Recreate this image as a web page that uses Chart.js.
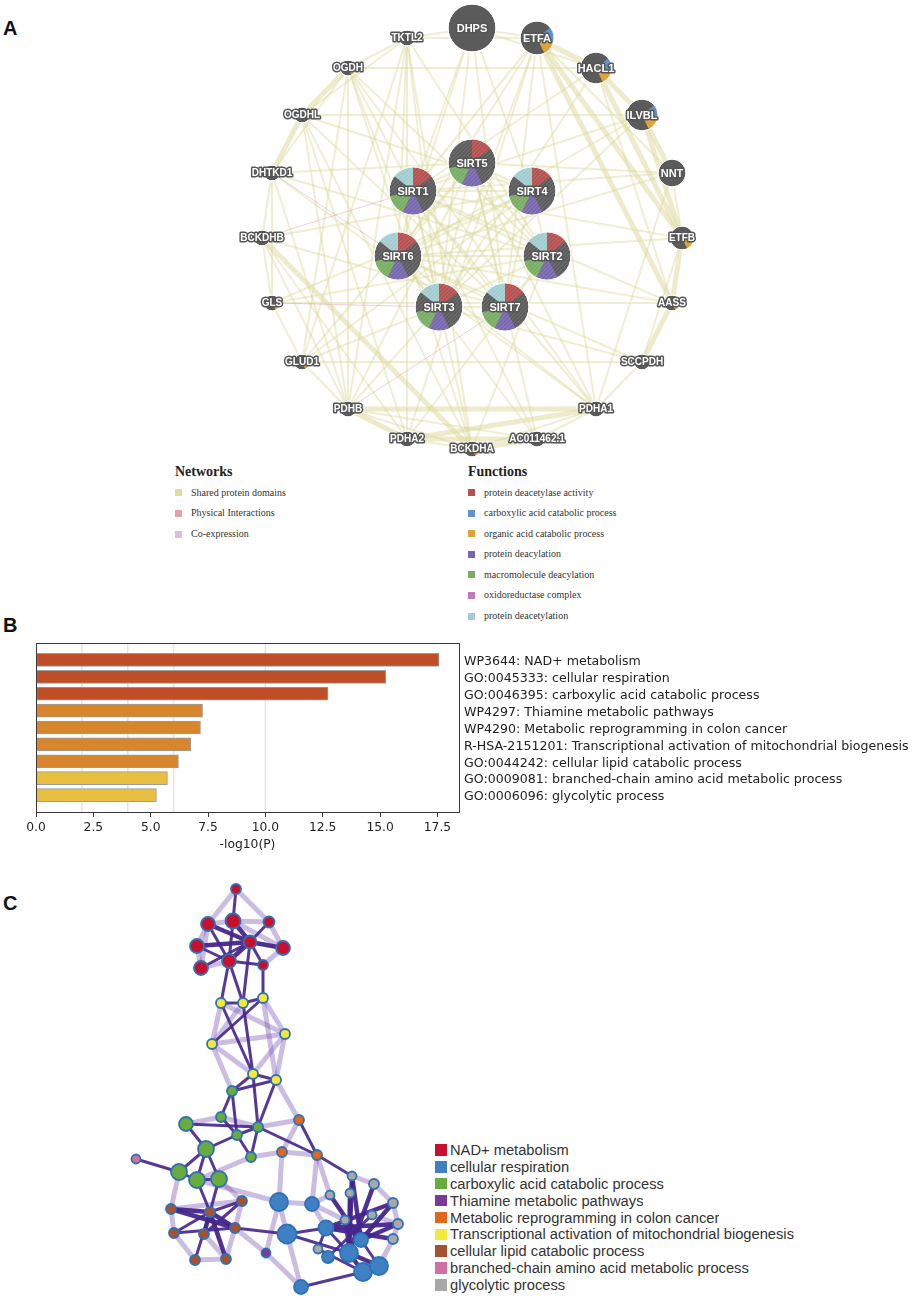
<!DOCTYPE html>
<html>
<head>
<meta charset="utf-8">
<title>Sirtuin network and enrichment</title>
<script src="https://cdn.jsdelivr.net/npm/chart.js"></script>
<style>
  body { margin: 0; background: #fff; }
  #page { position: relative; width: 913px; height: 1299px; overflow: hidden; }
  canvas { position: absolute; }
  .tag { position: absolute; font: bold 20px "Liberation Sans", Arial, sans-serif; color: #111; line-height: 20px; }
  .gm { position: absolute; font-family: "Liberation Serif", serif; color: #333; white-space: nowrap; }
  .gm.head { font-size: 14px; font-weight: bold; color: #222; line-height: 16px; }
  .gm.item { font-size: 10px; line-height: 14px; }
  .sq { position: absolute; }
  .ml { position: absolute; font: 14.7px "Liberation Sans", Arial, sans-serif; color: #333; line-height: 16px; white-space: nowrap; overflow: hidden; }
</style>
</head>
<body>
<div id="page">
  <div class="tag" style="left:3px;top:18px">A</div>
  <div class="tag" style="left:3px;top:615px">B</div>
  <div class="tag" style="left:3px;top:893px">C</div>
  <canvas id="geneNet" width="913" height="460" style="left:0;top:0"></canvas>
  <canvas id="barChart" width="913" height="230" style="left:0;top:630px"></canvas>
  <canvas id="termNet" width="430" height="429" style="left:0;top:870px"></canvas>
</div>

<script>
  // ---------- A: GeneMANIA network ----------
  const genes = ['DHPS','ETFA','HACL1','ILVBL','NNT','ETFB','AASS','SCCPDH','PDHA1','AC011462.1','BCKDHA','PDHA2','PDHB','GLUD1','GLS','BCKDHB','DHTKD1','OGDHL','OGDH','TKTL2','SIRT5','SIRT1','SIRT4','SIRT6','SIRT2','SIRT3','SIRT7'];
  const geneX = [472,537,596,642,672,682,672,642,596,537,472,407,348,302,272,262,272,302,348,407,472,413,532,398,547,439,505];
  const geneY = [28,38,68,115,173,238,303,362,409,439,449,439,409,362,303,238,173,115,68,38,163,191,191,256,256,307,307];
  const geneScore = [24,17,16,16,14,12,8,8,8,8,8,8,8,8,8,8,8,8,8,8,24,24,24,24,24,24,24];
  const geneFunctions = [[],[1,2],[1,2],[1,2],[],[2],[2],[],[],[],[2],[],[],[2],[2],[],[],[],[2],[],
    [0,3,4],[0,3,4,6],[0,3,4,6],[0,3,4,6],[0,3,4,6],[0,3,4,6],[0,3,4,6]];

  const networkTypes = ['Shared protein domains', 'Physical Interactions', 'Co-expression'];
  const networkColors = ['#e0dc9e', '#e2a3a8', '#d5c2df'];
  const functionNames = ['protein deacetylase activity','carboxylic acid catabolic process','organic acid catabolic process','protein deacylation','macromolecule deacylation','oxidoreductase complex','protein deacetylation'];
  const functionColors = ['#b5504f','#5e93cc','#dda43a','#7766ad','#78ad62','#c17bbb','#a1cdd0'];

  const strongLinks = ['ETFA-ETFB','ETFA-HACL1','HACL1-ILVBL','ILVBL-ETFB','HACL1-ETFB','ETFB-AASS','AASS-SCCPDH','ETFA-AASS','ILVBL-NNT',
    'OGDH-OGDHL','OGDHL-DHTKD1','PDHB-PDHA1','PDHA2-PDHA1','PDHA2-AC011462.1','BCKDHA-AC011462.1','BCKDHB-BCKDHA','PDHB-PDHA2'];
  const domainLinks = [
    'SIRT1-SIRT5','SIRT1-SIRT4','SIRT1-SIRT6','SIRT1-SIRT2','SIRT1-SIRT3','SIRT1-SIRT7','SIRT5-SIRT4','SIRT5-SIRT6','SIRT5-SIRT2','SIRT5-SIRT3','SIRT5-SIRT7',
    'SIRT4-SIRT6','SIRT4-SIRT2','SIRT4-SIRT3','SIRT4-SIRT7','SIRT6-SIRT2','SIRT6-SIRT3','SIRT6-SIRT7','SIRT2-SIRT3','SIRT2-SIRT7','SIRT3-SIRT7',
    'DHPS-SIRT1','DHPS-SIRT6','DHPS-SIRT3','DHPS-SIRT4','DHPS-SIRT7','DHPS-TKTL2','DHPS-ETFA',
    'TKTL2-OGDH','TKTL2-OGDHL','TKTL2-SIRT6','TKTL2-SIRT3','TKTL2-PDHB','TKTL2-PDHA2','TKTL2-ETFA','TKTL2-SIRT2','TKTL2-BCKDHA','TKTL2-GLUD1',
    'OGDH-DHTKD1','OGDH-SIRT3','OGDH-PDHB','OGDH-BCKDHA','OGDH-SIRT2','OGDH-PDHA1','OGDH-GLUD1','OGDH-SIRT1',
    'OGDHL-SIRT7','OGDHL-PDHA2','OGDHL-BCKDHA','OGDHL-PDHB','OGDHL-SIRT4',
    'DHTKD1-BCKDHB','DHTKD1-GLS','DHTKD1-SIRT5','DHTKD1-PDHB','DHTKD1-PDHA1','DHTKD1-SIRT2',
    'BCKDHB-GLS','BCKDHB-PDHB','BCKDHB-SIRT4','BCKDHB-PDHA2','BCKDHB-SIRT7',
    'GLS-GLUD1','GLS-SIRT4','GLS-SIRT2',
    'GLUD1-PDHB','GLUD1-SIRT5','GLUD1-SIRT4','GLUD1-SCCPDH','GLUD1-SIRT3',
    'PDHB-BCKDHA','PDHB-AC011462.1','PDHB-SIRT3','PDHB-SIRT5',
    'PDHA2-BCKDHA','PDHA2-ETFA','PDHA2-SIRT2',
    'BCKDHA-PDHA1','BCKDHA-SIRT1','BCKDHA-SIRT2',
    'AC011462.1-PDHA1','AC011462.1-SIRT5','AC011462.1-SIRT1','AC011462.1-SIRT6',
    'PDHA1-SIRT1','PDHA1-SIRT6','PDHA1-SCCPDH','PDHA1-ETFA','PDHA1-SIRT5','PDHA1-NNT',
    'SCCPDH-ETFB','SCCPDH-SIRT6','SCCPDH-SIRT3',
    'AASS-HACL1','AASS-SIRT1','AASS-SIRT6','AASS-GLS',
    'ETFB-NNT','ETFB-SIRT6','ETFB-SIRT1',
    'NNT-SIRT1','NNT-SIRT6','NNT-ETFA','NNT-SIRT5',
    'ILVBL-SIRT1','ILVBL-SIRT6','ILVBL-SIRT3','ILVBL-OGDHL',
    'HACL1-SIRT3','HACL1-SIRT1','HACL1-DHPS','HACL1-OGDH',
    'ETFA-SIRT6','ETFA-SIRT3','ETFA-SIRT1','ETFA-SIRT7'];
  const physicalLinks = ['GLS-SIRT3','BCKDHB-SIRT1','PDHB-SIRT7','DHTKD1-SIRT6'];

  // ---------- B: enrichment bars ----------
  const terms = ['WP3644: NAD+ metabolism','GO:0045333: cellular respiration','GO:0046395: carboxylic acid catabolic process',
    'WP4297: Thiamine metabolic pathways','WP4290: Metabolic reprogramming in colon cancer',
    'R-HSA-2151201: Transcriptional activation of mitochondrial biogenesis','GO:0044242: cellular lipid catabolic process',
    'GO:0009081: branched-chain amino acid metabolic process','GO:0006096: glycolytic process'];
  const logP = [17.57, 15.25, 12.73, 7.26, 7.17, 6.75, 6.21, 5.73, 5.25];
  const barColors = ['#c04f28','#c04f28','#c04f28','#d8862e','#d8862e','#d8862e','#d8862e','#e9bf41','#e9bf41'];
  const refLines = [2, 4, 6, 10];

  // ---------- C: Metascape term network ----------
  const clusterNames = ['NAD+ metabolism','cellular respiration','carboxylic acid catabolic process','Thiamine metabolic pathways',
    'Metabolic reprogramming in colon cancer','Transcriptional activation of mitochondrial biogenesis','cellular lipid catabolic process',
    'branched-chain amino acid metabolic process','glycolytic process'];
  const clusterColors = ['#c8102e','#3f80c4','#6aab3e','#7b3a96','#e0671e','#f4e83c','#a65230','#d36fa8','#a8a8a8'];
  const termIds = ['r1','r2','r3','r4','r5','r6','r7','r8','r9','r10','y1','y2','y3','y4','y5','y6','y7',
    'g1','g2','g3','g4','g5','g6','g7','g8','g9','g10','o1','o2','o3','p1','b1','b2','b3','b4','b5','b6','b7','b8','t1',
    'c1','c2','c3','c4','c5','c6','c7','c8','c9','c10','k1','k2','k3','k4','k5','k6','k7','k8','k9','k10'];
  const termX = [236,208,233,269,197,250,283,201,229,263,221,243,263,285,212,253,276,
    232,186,221,258,237,251,206,179,197,219,299,282,317,136,171,210,242,235,174,204,195,226,266,
    279,312,287,326,361,349,328,363,379,301,352,374,330,350,393,372,345,398,393,318];
  const termY = [889,924,921,922,946,942,948,968,961,965,1003,1003,998,1034,1044,1074,1080,
    1091,1124,1117,1127,1135,1157,1149,1172,1180,1179,1120,1152,1155,1159,1209,1212,1201,1228,1233,1234,1260,1259,1253,
    1202,1204,1234,1228,1240,1253,1257,1272,1266,1287,1176,1184,1195,1193,1203,1215,1220,1224,1239,1249];
  const termSize = [5,7,7.5,5.5,7,6.5,7,7,7,5,5,5,5,5,5,5,5,
    5,7,5,5,5,5,8,8,8,8,5,5,5,4.5,5,5,5,5,5,5,5,5,4.5,
    9,7,9.5,7.5,7,9,6,9,9,7,4.5,5,4.5,4.5,5,4.5,4.5,5,5,4.5];
  const termCluster = [0,0,0,0,0,0,0,0,0,0,5,5,5,5,5,5,5,
    2,2,2,2,2,2,2,2,2,2,4,4,4,7,6,6,6,6,6,6,6,6,3,
    1,1,1,1,1,1,1,1,1,1,8,8,8,8,8,8,8,8,8,8];
  const hubTermLinks = ['r5-r6','r6-r7','r2-r6','r6-r9','r3-r6','b2-b1','b2-b4','b1-b4','b2-b8','b2-b6',
    'c4-k5','c4-k8','c4-k9','c6-k1','c6-k4','c6-k2','c5-k3','c5-k1','c5-k5','c5-k8','c6-c9','c6-c8'];
  const strongTermLinks = ['r1-r3','r3-r9','r6-r4','r6-r8','r6-r10','r5-r9','r2-r9','r9-r10',
    'r9-y2','r6-y2','r10-y3','r9-y1','y1-y2','y2-y3','y1-y6','y3-y5','y2-y6','y6-y7','y6-g1','y7-g1','y6-g4','y7-g4',
    'g1-g3','g1-g5','g3-g5','g4-g6','g2-g4','g5-g7','g7-g8','g7-g2','g7-g9','g7-g10','g8-g9','g9-g10','g5-g6','g4-o3','g4-g5','p1-g8','g9-b2','g10-b2',
    'b2-b3','b2-b5','b2-b7','b5-b4','b6-b3',
    'b4-c3','c3-c4','c3-c6','c7-k6','c5-c9','c8-k10','c4-k10','c10-c8','o3-k1','c6-k7','c4-c6','o1-o3'];
  const weakTermLinks = ['r2-r3','r3-r4','r4-r7','r2-r5','r5-r8','r8-r9','r10-r7','r1-r2','r1-r4','r3-r7','r2-r8',
    'y1-y5','y5-y6','y3-y4','y4-y7','y4-y1','y5-y4','y5-g1','y4-y6','y2-y5','y3-y7',
    'g2-g3','g3-g4','g8-b1','g9-g6','g6-o2','y7-o1','o1-o2','o2-o3','g4-o1',
    'b1-b5','b5-b7','b7-b8','b8-b4','b4-b3','b3-b1','b3-g10','b6-b8',
    'g9-c1','c1-o2','c1-c3','c2-o3','c2-c4','t1-c1','t1-c10','t1-b4','c2-k3','k5-k8','k8-k9','k2-k5','k1-k2','c10-c3','c1-c2','o3-k3','k9-c9','k6-k8','c2-k7'];

  Chart.defaults.font.family = '"DejaVu Sans", sans-serif';

  // one straight segment per edge, placed by the chart's own scales
  function linkSet(pair, ids, xs, ys, color, width) {
    const [a, b] = pair.split('-').map(n => ids.indexOf(n));
    return { type: 'scatter', showLine: true, data: [{x: xs[a], y: ys[a]}, {x: xs[b], y: ys[b]}],
      borderColor: color, borderWidth: width, pointRadius: 0, pointHoverRadius: 0, tension: 0 };
  }

  const netOptions = (w, y0, y1) => ({
    responsive: false, animation: false, events: [],
    layout: { padding: 0, autoPadding: false },
    plugins: { legend: { display: false }, tooltip: { enabled: false } },
    scales: {
      x: { type: 'linear', min: 0, max: w, display: false },
      y: { type: 'linear', min: y0, max: y1, reverse: true, display: false }
    }
  });

  // pies, hatching and labels on the gene nodes
  const geneDecor = {
    id: 'geneDecor',
    afterDatasetsDraw(chart) {
      const ctx = chart.ctx;
      const step = Math.PI * 2 / functionNames.length;
      chart.getDatasetMeta(0).data.forEach((pt, i) => {
        const r = geneScore[i];
        ctx.save();
        geneFunctions[i].forEach(f => {
          ctx.beginPath();
          ctx.moveTo(pt.x, pt.y);
          ctx.arc(pt.x, pt.y, r, -Math.PI / 2 + f * step, -Math.PI / 2 + (f + 1) * step);
          ctx.closePath();
          ctx.fillStyle = functionColors[f];
          ctx.fill();
        });
        if (geneFunctions[i].includes(0)) {
          ctx.beginPath();
          ctx.arc(pt.x, pt.y, r, 0, Math.PI * 2);
          ctx.clip();
          ctx.strokeStyle = 'rgba(255,255,255,0.13)';
          ctx.lineWidth = 1.2;
          for (let d = -2 * r; d <= 2 * r; d += 4) {
            ctx.beginPath();
            ctx.moveTo(pt.x + d - r, pt.y + r);
            ctx.lineTo(pt.x + d + r, pt.y - r);
            ctx.stroke();
          }
        }
        ctx.restore();
        ctx.beginPath();
        ctx.arc(pt.x, pt.y, r, 0, Math.PI * 2);
        ctx.strokeStyle = '#fff';
        ctx.lineWidth = 1;
        ctx.stroke();
        ctx.font = (r > 12 ? 'bold 11px' : 'bold 10px') + ' "Liberation Sans", Arial, sans-serif';
        ctx.textAlign = 'center';
        ctx.textBaseline = 'middle';
        ctx.lineJoin = 'round';
        ctx.strokeStyle = '#555';
        ctx.lineWidth = 3;
        ctx.strokeText(genes[i], pt.x, pt.y + 0.5);
        ctx.fillStyle = '#fff';
        ctx.fillText(genes[i], pt.x, pt.y + 0.5);
      });
    }
  };

  new Chart(document.getElementById('geneNet'), {
    type: 'scatter',
    data: {
      datasets: [
        { data: genes.map((g, i) => ({x: geneX[i], y: geneY[i]})),
          pointRadius: c => geneScore[c.dataIndex], pointBackgroundColor: '#5b5b5b',
          pointBorderColor: '#fff', pointBorderWidth: 1 },
        ...physicalLinks.map(p => linkSet(p, genes, geneX, geneY, 'rgba(226,150,160,0.45)', 1)),
        ...domainLinks.map(p => linkSet(p, genes, geneX, geneY, 'rgba(218,214,150,0.42)', 2)),
        ...strongLinks.map(p => linkSet(p, genes, geneX, geneY, 'rgba(222,218,160,0.55)', 5))
      ]
    },
    options: netOptions(913, 0, 460),
    plugins: [geneDecor]
  });

  // ---------- B ----------
  const barFrame = {
    id: 'barFrame',
    beforeDatasetsDraw(chart) {
      const { ctx, chartArea: a, scales: { x } } = chart;
      ctx.save();
      ctx.strokeStyle = '#efdfdf';
      ctx.lineWidth = 1.5;
      refLines.forEach(v => {
        const px = x.getPixelForValue(v);
        ctx.beginPath(); ctx.moveTo(px, a.top); ctx.lineTo(px, a.bottom); ctx.stroke();
      });
      ctx.restore();
    },
    afterDatasetsDraw(chart) {
      const { ctx, chartArea: a } = chart;
      ctx.save();
      ctx.strokeStyle = '#3a3a3a';
      ctx.lineWidth = 1;
      ctx.strokeRect(Math.round(a.left) + 0.5, Math.round(a.top) + 0.5, Math.round(a.right - a.left), Math.round(a.bottom - a.top));
      ctx.restore();
    }
  };

  new Chart(document.getElementById('barChart'), {
    type: 'bar',
    data: {
      labels: ['', ...terms, ''],
      datasets: [{
        data: [null, ...logP, null],
        backgroundColor: ['transparent', ...barColors, 'transparent'],
        borderColor: '#9c9c9c', borderWidth: 1, borderSkipped: false,
        barThickness: 13
      }]
    },
    options: {
      indexAxis: 'y', responsive: false, animation: false, events: [],
      layout: { padding: { top: 13, left: 36, right: 0, bottom: 0 } },
      plugins: { legend: { display: false }, tooltip: { enabled: false } },
      scales: {
        x: {
          min: 0, max: 18.44,
          grid: { display: true, drawOnChartArea: false, drawTicks: true, tickLength: 5, color: '#3a3a3a' },
          border: { display: false },
          ticks: { stepSize: 2.5, includeBounds: false, callback: v => v.toFixed(1), color: '#222',
            font: { size: 12.3 }, padding: 3, maxRotation: 0 },
          title: { display: true, text: '-log10(P)', color: '#222', font: { size: 12.3 }, padding: { top: 2, bottom: 8 } },
          afterFit: s => { s.height = 48; }
        },
        y: {
          position: 'right', offset: false,
          grid: { display: false, drawTicks: false },
          border: { display: false },
          ticks: { color: '#222', font: { size: 12.6 }, padding: 5, autoSkip: false, labelOffset: 2 },
          afterFit: s => { s.width = 454; }
        }
      }
    },
    plugins: [barFrame]
  });

  // ---------- C ----------
  new Chart(document.getElementById('termNet'), {
    type: 'scatter',
    data: {
      datasets: [
        { data: termIds.map((t, i) => ({x: termX[i], y: termY[i]})),
          pointRadius: c => termSize[c.dataIndex],
          pointBackgroundColor: c => clusterColors[termCluster[c.dataIndex]],
          pointBorderColor: '#2d72b4', pointBorderWidth: 1.8 },
        ...hubTermLinks.map(p => linkSet(p, termIds, termX, termY, 'rgba(70,38,140,0.95)', 4.5)),
        ...strongTermLinks.map(p => linkSet(p, termIds, termX, termY, 'rgba(72,40,140,0.92)', 3)),
        ...weakTermLinks.map(p => linkSet(p, termIds, termX, termY, 'rgba(125,90,180,0.4)', 5))
      ]
    },
    options: netOptions(430, 870, 1299)
  });

  // ---------- legends ----------
  const page = document.getElementById('page');
  function put(html) { page.insertAdjacentHTML('beforeend', html); }

  put('<div class="gm head" style="left:175px;top:464px">Networks</div>');
  networkTypes.forEach((n, i) => {
    const cy = 492.7 + i * 20.7;
    put(`<div class="sq" style="left:175px;top:${cy - 3.5}px;width:7px;height:7px;background:${networkColors[i]}"></div>`);
    put(`<div class="gm item" style="left:191px;top:${cy - 7}px">${n}</div>`);
  });
  put('<div class="gm head" style="left:468px;top:464px">Functions</div>');
  functionNames.forEach((n, i) => {
    const cy = 492.7 + i * 20.55;
    put(`<div class="sq" style="left:468px;top:${cy - 3.5}px;width:7px;height:7px;background:${functionColors[i]}"></div>`);
    put(`<div class="gm item" style="left:484px;top:${cy - 7}px">${n}</div>`);
  });

  clusterNames.forEach((n, i) => {
    const cy = 1150 + i * 16.88;
    put(`<div class="sq" style="left:435px;top:${cy - 5.8}px;width:11.5px;height:11.5px;background:${clusterColors[i]}"></div>`);
    put(`<div class="ml" style="left:450px;top:${cy - 8}px;max-width:346px">${n}</div>`);
  });
</script>
</body>
</html>
